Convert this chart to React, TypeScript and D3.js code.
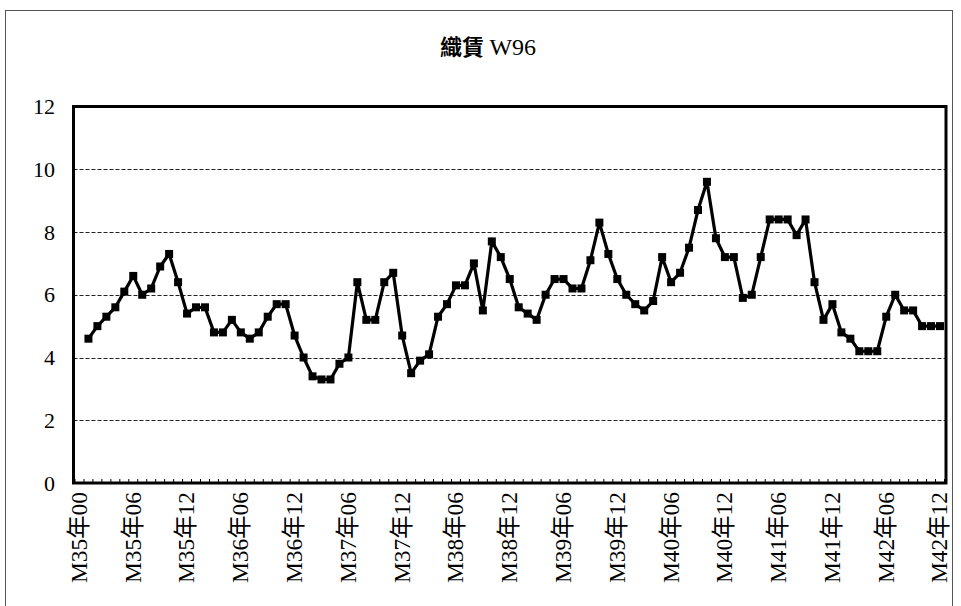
import { useEffect, useRef } from "react";
import * as d3 from "d3";

// ── Data ──────────────────────────────────────────────────────────────────────

const TITLE_CJK = "織賃";
const TITLE_LATIN = "W96";

const YEARS = ["M35", "M36", "M37", "M38", "M39", "M40", "M41", "M42"];
const MONTHS = ["01", "02", "03", "04", "05", "06", "07", "08", "09", "10", "11", "12"];

// first category (M35年00) carries no value
const FIRST_CATEGORY = "M35年00";

// monthly values, M35年01 .. M42年12
const VALUES_M35 = [4.6, 5.0, 5.3, 5.6, 6.1, 6.6, 6.0, 6.2, 6.9, 7.3, 6.4, 5.4];
const VALUES_M36 = [5.6, 5.6, 4.8, 4.8, 5.2, 4.8, 4.6, 4.8, 5.3, 5.7, 5.7, 4.7];
const VALUES_M37 = [4.0, 3.4, 3.3, 3.3, 3.8, 4.0, 6.4, 5.2, 5.2, 6.4, 6.7, 4.7];
const VALUES_M38 = [3.5, 3.9, 4.1, 5.3, 5.7, 6.3, 6.3, 7.0, 5.5, 7.7, 7.2, 6.5];
const VALUES_M39 = [5.6, 5.4, 5.2, 6.0, 6.5, 6.5, 6.2, 6.2, 7.1, 8.3, 7.3, 6.5];
const VALUES_M40 = [6.0, 5.7, 5.5, 5.8, 7.2, 6.4, 6.7, 7.5, 8.7, 9.6, 7.8, 7.2];
const VALUES_M41 = [7.2, 5.9, 6.0, 7.2, 8.4, 8.4, 8.4, 7.9, 8.4, 6.4, 5.2, 5.7];
const VALUES_M42 = [4.8, 4.6, 4.2, 4.2, 4.2, 5.3, 6.0, 5.5, 5.5, 5.0, 5.0, 5.0];

const Y_TICKS = [0, 2, 4, 6, 8, 10, 12];
const LABEL_EVERY = 6;

// ── Layout ────────────────────────────────────────────────────────────────────

const WIDTH = 961;
const HEIGHT = 606;
const PLOT = { left: 73.5, right: 946, top: 106.5, bottom: 483 };
const FONT = "'Liberation Serif', 'Times New Roman', 'Noto Sans CJK TC', serif";

const App = () => {
  const svgRef = useRef<SVGSVGElement>(null);

  useEffect(() => {
    if (!svgRef.current) return;
    const svg = d3.select(svgRef.current);
    svg.selectAll("*").remove();

    const categories = [
      FIRST_CATEGORY,
      ...YEARS.flatMap((y) => MONTHS.map((m) => `${y}年${m}`)),
    ];
    const series = [VALUES_M35, VALUES_M36, VALUES_M37, VALUES_M38,
                    VALUES_M39, VALUES_M40, VALUES_M41, VALUES_M42].flat();
    const points = series.map((v, i) => ({ cat: categories[i + 1], v }));

    const x = d3.scaleBand<string>()
      .domain(categories)
      .range([PLOT.left + 1.5, PLOT.right - 1.5])
      .padding(0);
    const cx = (c: string) => (x(c) ?? 0) + x.bandwidth() / 2;

    const y = d3.scaleLinear().domain([0, 12]).range([PLOT.bottom, PLOT.top]);

    // outer chart border
    svg.append("rect")
      .attr("x", 5.5).attr("y", 10.5)
      .attr("width", 947).attr("height", 620)
      .attr("fill", "white")
      .attr("stroke", "#555")
      .attr("stroke-width", 1);

    // title
    const title = svg.append("text")
      .attr("x", 488).attr("y", 55)
      .attr("text-anchor", "middle")
      .attr("font-family", FONT)
      .attr("fill", "#000");
    title.append("tspan").attr("font-size", 22).attr("font-weight", "bold").text(TITLE_CJK + " ");
    title.append("tspan").attr("font-size", 24).text(TITLE_LATIN);

    // grid lines
    svg.append("g")
      .selectAll("line")
      .data(Y_TICKS.filter((t) => t > 0 && t < 12))
      .join("line")
      .attr("x1", PLOT.left).attr("x2", PLOT.right)
      .attr("y1", (d) => Math.round(y(d)) + 0.5)
      .attr("y2", (d) => Math.round(y(d)) + 0.5)
      .attr("stroke", "#222")
      .attr("stroke-width", 1)
      .attr("stroke-dasharray", "4,2");

    // category ticks (inside, at bottom)
    const bounds = d3.range(categories.length + 1).map((i) => PLOT.left + 1.5 + i * x.step());
    svg.append("g")
      .selectAll("line")
      .data(bounds)
      .join("line")
      .attr("x1", (d) => d).attr("x2", (d) => d)
      .attr("y1", PLOT.bottom).attr("y2", PLOT.bottom - 4)
      .attr("stroke", "#000")
      .attr("stroke-width", 1);

    // plot frame
    svg.append("rect")
      .attr("x", PLOT.left).attr("y", PLOT.top)
      .attr("width", PLOT.right - PLOT.left)
      .attr("height", PLOT.bottom - PLOT.top)
      .attr("fill", "none")
      .attr("stroke", "#000")
      .attr("stroke-width", 3);

    // y labels
    svg.append("g")
      .selectAll("text")
      .data(Y_TICKS)
      .join("text")
      .attr("x", 55)
      .attr("y", (d) => y(d))
      .attr("dy", "0.35em")
      .attr("text-anchor", "end")
      .attr("font-family", FONT)
      .attr("font-size", 22)
      .attr("fill", "#000")
      .text((d) => d);

    // x labels
    svg.append("g")
      .selectAll("text")
      .data(categories.filter((_, i) => i % LABEL_EVERY === 0))
      .join("text")
      .attr("transform", (d) => `translate(${cx(d) - 1},${PLOT.bottom + 9}) rotate(-90)`)
      .attr("dy", "0.35em")
      .attr("text-anchor", "end")
      .attr("font-family", FONT)
      .attr("font-size", 24)
      .attr("textLength", 91)
      .attr("lengthAdjust", "spacingAndGlyphs")
      .attr("fill", "#000")
      .text((d) => d);

    // line
    const line = d3.line<{ cat: string; v: number }>()
      .x((d) => cx(d.cat))
      .y((d) => y(d.v));

    svg.append("path")
      .datum(points)
      .attr("d", line)
      .attr("fill", "none")
      .attr("stroke", "#000")
      .attr("stroke-width", 3.2)
      .attr("stroke-linejoin", "round");

    // markers
    const S = 8;
    svg.append("g")
      .selectAll("rect")
      .data(points)
      .join("rect")
      .attr("x", (d) => cx(d.cat) - S / 2)
      .attr("y", (d) => y(d.v) - S / 2)
      .attr("width", S).attr("height", S)
      .attr("fill", "#000");
  }, []);

  return (
    <svg
      ref={svgRef}
      width={WIDTH}
      height={HEIGHT}
      style={{ position: "absolute", left: 0, top: 0, display: "block", background: "white" }}
    />
  );
};

export default App;
